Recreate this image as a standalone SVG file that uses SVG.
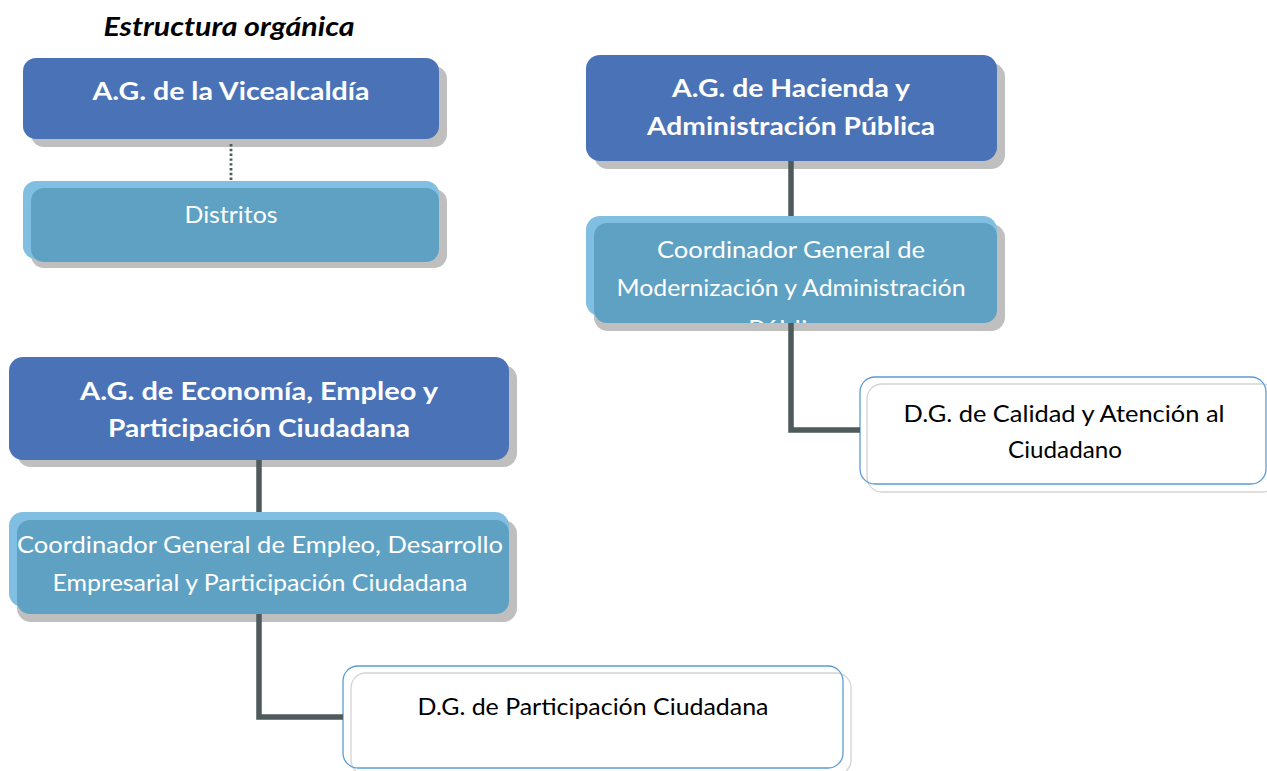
<svg xmlns="http://www.w3.org/2000/svg" width="1267" height="771" viewBox="0 0 1267 771">
<style>
.bg{fill:#ffffff}
.shadow{fill:#bfbfbf}
.dark{fill:#4a72b6}
.light{fill:#80bfe1}
.mid{fill:#5fa1c3}
.outB{fill:none;stroke:#5b9bd5;stroke-width:1.3}
.outG{fill:none;stroke:#d3d3d3;stroke-width:1.3}
.conn{fill:none;stroke:#4e5a5b;stroke-width:5.5}
.dot{fill:none;stroke:#4e5a5b;stroke-width:2.8;stroke-dasharray:2.4 2.4}
.tb{font-family:Lato,"Liberation Sans",sans-serif;font-weight:bold;font-size:24px;fill:#ffffff;text-anchor:middle}
.tw{font-family:Lato,"Liberation Sans",sans-serif;font-size:23px;fill:#ffffff;text-anchor:middle}
.tk{font-family:Lato,"Liberation Sans",sans-serif;font-size:23px;fill:#000000;text-anchor:middle}
.title{font-family:Lato,"Liberation Sans",sans-serif;font-weight:bold;font-style:italic;font-size:26px;fill:#000000;text-anchor:middle}
</style>
<defs>
<clipPath id="clipC2"><rect x="594" y="223" width="403" height="100" rx="13"/></clipPath>
</defs>
<rect class="bg" x="0" y="0" width="1267" height="771"/>
<text class="title" x="229" y="36" textLength="251" lengthAdjust="spacingAndGlyphs">Estructura orgánica</text>

<g id="node-vicealcaldia">
<rect class="shadow" x="31" y="66" width="416" height="81" rx="13"/>
<rect class="dark" x="23" y="58" width="416" height="81" rx="13"/>
<text class="tb" x="231" y="100" textLength="277" lengthAdjust="spacingAndGlyphs">A.G. de la Vicealcaldía</text>
</g>

<g id="node-distritos">
<rect class="shadow" x="31" y="189" width="416" height="79" rx="13"/>
<rect class="light" x="23" y="181" width="416" height="78" rx="13"/>
<rect class="mid" x="31" y="188" width="408" height="74" rx="13"/>
<text class="tw" x="231" y="223" textLength="93" lengthAdjust="spacingAndGlyphs">Distritos</text>
</g>

<g id="node-hacienda">
<rect class="shadow" x="594" y="63" width="411" height="106" rx="14"/>
<rect class="dark" x="586" y="55" width="411" height="106" rx="14"/>
<text class="tb" x="791" y="97" textLength="238" lengthAdjust="spacingAndGlyphs">A.G. de Hacienda y</text>
<text class="tb" x="791" y="135" textLength="288" lengthAdjust="spacingAndGlyphs">Administración Pública</text>
</g>

<g id="node-coord-modernizacion">
<rect class="shadow" x="594" y="224" width="411" height="107" rx="14"/>
<rect class="light" x="586" y="216" width="411" height="100" rx="14"/>
<rect class="mid" x="594" y="223" width="403" height="100" rx="13"/>
<text class="tw" x="791" y="258" textLength="268" lengthAdjust="spacingAndGlyphs">Coordinador General de</text>
<text class="tw" x="791" y="296" textLength="349" lengthAdjust="spacingAndGlyphs">Modernización y Administración</text>
<g clip-path="url(#clipC2)"><text class="tw" x="791" y="337" textLength="86" lengthAdjust="spacingAndGlyphs">Pública</text></g>
</g>

<g id="node-dg-calidad">
<rect class="outG" x="867" y="384" width="410" height="108" rx="15"/>
<rect class="outB" x="860" y="377" width="406" height="107" rx="15"/>
<text class="tk" x="1064" y="422" textLength="321" lengthAdjust="spacingAndGlyphs">D.G. de Calidad y Atención al</text>
<text class="tk" x="1065" y="458" textLength="114" lengthAdjust="spacingAndGlyphs">Ciudadano</text>
</g>

<g id="node-economia">
<rect class="shadow" x="17" y="365" width="500" height="102" rx="14"/>
<rect class="dark" x="9" y="357" width="500" height="103" rx="14"/>
<text class="tb" x="259" y="400" textLength="358" lengthAdjust="spacingAndGlyphs">A.G. de Economía, Empleo y</text>
<text class="tb" x="259" y="437" textLength="302" lengthAdjust="spacingAndGlyphs">Participación Ciudadana</text>
</g>

<g id="node-coord-empleo">
<rect class="shadow" x="17" y="520" width="500" height="102" rx="14"/>
<rect class="light" x="9" y="512" width="500" height="95" rx="14"/>
<rect class="mid" x="17" y="520" width="492" height="94" rx="13"/>
<text class="tw" x="260" y="553" textLength="486" lengthAdjust="spacingAndGlyphs">Coordinador General de Empleo, Desarrollo</text>
<text class="tw" x="260" y="591" textLength="415" lengthAdjust="spacingAndGlyphs">Empresarial y Participación Ciudadana</text>
</g>

<g id="node-dg-participacion">
<rect class="outG" x="351" y="673" width="500" height="102" rx="15"/>
<rect class="outB" x="343" y="666" width="500" height="102" rx="15"/>
<text class="tk" x="593" y="715" textLength="351" lengthAdjust="spacingAndGlyphs">D.G. de Participación Ciudadana</text>
</g>

<g id="connectors">
<path class="dot" d="M231,144 V181"/>
<path class="conn" d="M791,161 V216"/>
<path class="conn" d="M791,323 V430 H860"/>
<path class="conn" d="M259,460 V512"/>
<path class="conn" d="M259,614 V717 H343"/>
</g>
</svg>
